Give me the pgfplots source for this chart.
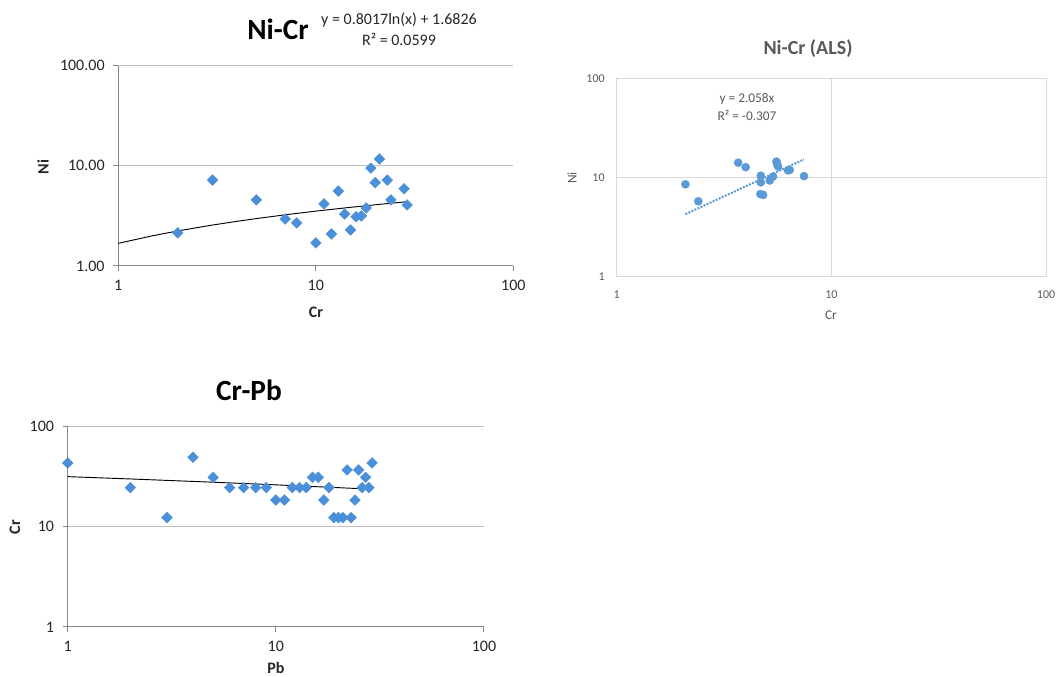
\documentclass[border=0pt]{standalone}
\usepackage{fontspec}
\setmainfont{Carlito}
\usepackage{pgfplots}
\pgfplotsset{compat=1.18}

\definecolor{mkA}{HTML}{4A8FD8}
\definecolor{mkB}{HTML}{5B9BD5}
\definecolor{gridA}{HTML}{BFBFBF}
\definecolor{axA}{HTML}{868686}
\definecolor{gridB}{HTML}{D9D9D9}
\definecolor{txA}{HTML}{262626}
\definecolor{txB}{HTML}{595959}

\begin{document}
\begin{tikzpicture}[x=0.75pt, y=-0.75pt]
\useasboundingbox (0,0) rectangle (1056,677);

% ---------------- Ni-Cr
\begin{axis}[
  xmode=log, ymode=log, scale only axis,
  at={({118.3*0.75pt},{-65.7*0.75pt})}, anchor=north west,
  width=296.25pt, height=150.2pt,
  xmin=1, xmax=100, ymin=1, ymax=100,
  xtick={1,10,100}, ytick={1,10,100},
  xticklabels={1,10,100}, yticklabels={1.00,10.00,100.00},
  axis x line*=bottom, axis y line*=left,
  x axis line style={-}, y axis line style={-},
  axis line style={color=axA, line width=0.75pt},
  ymajorgrids, grid style={color=gridA, line width=0.75pt},
  tick align=outside, major tick length=3.75pt, minor tick length=0pt,
  tick style={color=axA, line width=0.75pt},
  tick label style={font=\fontsize{12}{14}\selectfont, text=txA},
  xticklabel style={yshift=-3.5pt},
  yticklabel style={xshift=-3pt},
  clip=false,
  /pgf/number format/assume math mode=true,
]
\addplot[black, line width=0.7pt] coordinates {
  (1,1.683) (1.5,2.008) (2,2.238) (3,2.563) (4,2.794) (5,2.973) (7,3.243)
  (10,3.529) (14,3.798) (20,4.084) (25,4.263) (29,4.382)};
\addplot[only marks, mark=square*, mark size=2.8pt,
  mark options={rotate=45, fill=mkA, draw=mkA}] coordinates {
  (2,2.14) (3,7.2) (5,4.57) (7,2.95) (8,2.69) (10,1.70) (11,4.17) (12,2.09)
  (13,5.6) (14,3.3) (15,2.29) (16,3.1) (17,3.16) (18,3.8) (19,9.5) (20,6.8)
  (21,11.7) (23,7.2) (24,4.57) (28,5.9) (29,4.07)};
\end{axis}
\node[font=\fontsize{22}{26}\selectfont\bfseries, text=black] at (278,29) {Ni-Cr};
\node[font=\fontsize{12}{14}\selectfont, text=txA] at (399,20) {y = 0.8017ln(x) + 1.6826};
\node[font=\fontsize{12}{14}\selectfont, text=txA] at (399,39) {R² = 0.0599};
\node[font=\fontsize{12}{14}\selectfont\bfseries, text=txA] at (316,312) {Cr};
\node[font=\fontsize{12}{14}\selectfont\bfseries, text=txA, rotate=90] at (43,167) {Ni};

% ---------------- Ni-Cr (ALS)
\begin{axis}[
  xmode=log, ymode=log, scale only axis,
  at={({616.7*0.75pt},{-78.7*0.75pt})}, anchor=north west,
  width=322pt, height=148.7pt,
  xmin=1, xmax=100, ymin=1, ymax=100,
  xtick={1,10,100}, ytick={1,10,100},
  xticklabels={1,10,100}, yticklabels={1,10,100},
  axis line style={color=gridB, line width=0.75pt},
  xmajorgrids, ymajorgrids, grid style={color=gridB, line width=0.75pt},
  major tick length=0pt, minor tick length=0pt,
  tick label style={font=\fontsize{9}{11}\selectfont, text=txB},
  xticklabel style={yshift=-6.5pt},
  yticklabel style={xshift=-5.5pt},
  clip=false,
  /pgf/number format/assume math mode=true,
]
\addplot[mkB, line width=1.5pt, densely dotted] coordinates {(2.09,4.30) (7.46,15.35)};
\addplot[only marks, mark=*, mark size=3pt, mark options={fill=mkB, draw=mkB}] coordinates {
  (2.09,8.6) (2.40,5.8) (3.68,14.2) (3.99,12.8) (4.69,10.5) (4.69,9.0)
  (4.67,6.85) (4.81,6.73) (5.16,9.4) (5.35,10.3) (5.55,14.6) (5.58,13.8)
  (5.65,13.0) (6.28,11.9) (6.40,12.0) (7.46,10.4)};
\end{axis}
\node[font=\fontsize{15}{18}\selectfont\bfseries, text=txB] at (808,49) {Ni-Cr (ALS)};
\node[font=\fontsize{10}{12}\selectfont, text=txB] at (747,99) {y = 2.058x};
\node[font=\fontsize{10}{12}\selectfont, text=txB] at (747,115) {R² = -0.307};
\node[font=\fontsize{10}{12}\selectfont, text=txB] at (831,315) {Cr};
\node[font=\fontsize{10}{12}\selectfont, text=txB, rotate=90] at (572,178) {Ni};

% ---------------- Cr-Pb
\begin{axis}[
  xmode=log, ymode=log, scale only axis,
  at={({67.7*0.75pt},{-426.3*0.75pt})}, anchor=north west,
  width=312.2pt, height=150.5pt,
  xmin=1, xmax=100, ymin=1, ymax=100,
  xtick={1,10,100}, ytick={1,10,100},
  xticklabels={1,10,100}, yticklabels={1,10,100},
  axis x line*=bottom, axis y line*=left,
  x axis line style={-}, y axis line style={-},
  axis line style={color=axA, line width=0.75pt},
  ymajorgrids, grid style={color=gridA, line width=0.75pt},
  tick align=outside, major tick length=3.75pt, minor tick length=0pt,
  tick style={color=axA, line width=0.75pt},
  tick label style={font=\fontsize{12}{14}\selectfont, text=txA},
  xticklabel style={yshift=-3.5pt},
  yticklabel style={xshift=-3pt},
  clip=false,
  /pgf/number format/assume math mode=true,
]
\addplot[black, line width=0.7pt] coordinates {
  (1,31.5) (2,29.87) (5,27.72) (10,26.09) (20,24.46) (29,23.59)};
\addplot[only marks, mark=square*, mark size=2.8pt,
  mark options={rotate=45, fill=mkA, draw=mkA}] coordinates {
  (1,43.1) (2,24.5) (3,12.3) (4,49.1) (5,31.0) (6,24.5) (7,24.5) (8,24.5)
  (9,24.5) (10,18.4) (11,18.4) (12,24.5) (13,24.5) (14,24.5) (15,31.0)
  (16,31.0) (17,18.4) (18,24.5) (19,12.3) (20,12.3) (21,12.3) (22,36.7)
  (23,12.3) (24,18.4) (25,36.7) (26,24.5) (27,31.0) (28,24.5) (29,43.1)};
\end{axis}
\node[font=\fontsize{22}{26}\selectfont\bfseries, text=black] at (249,390) {Cr-Pb};
\node[font=\fontsize{12}{14}\selectfont\bfseries, text=txA, inner sep=0pt] at (276,668) {Pb};
\node[font=\fontsize{12}{14}\selectfont\bfseries, text=txA, rotate=90] at (15,527) {Cr};
\end{tikzpicture}
\end{document}
